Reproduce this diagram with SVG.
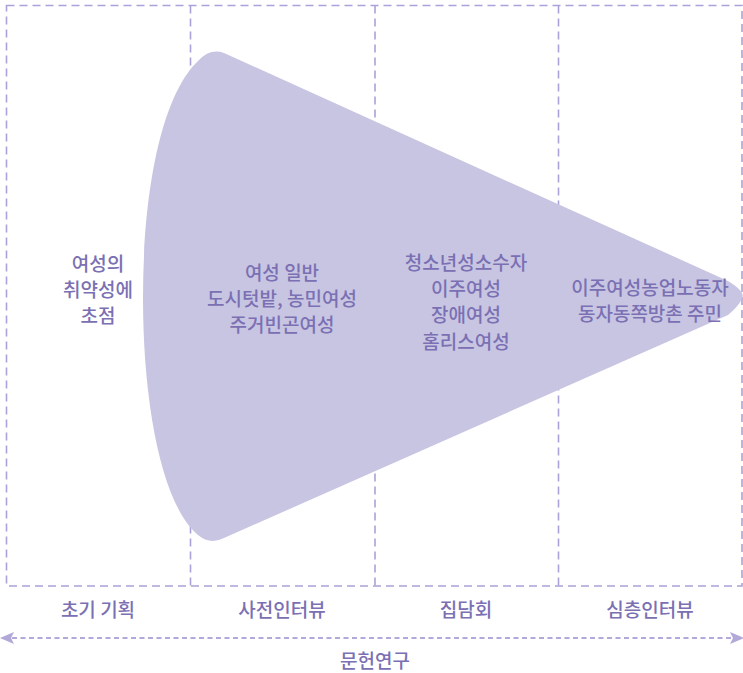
<svg xmlns="http://www.w3.org/2000/svg" width="743" height="673" viewBox="0 0 743 673">
<style>
.grid{fill:none;stroke:#aaa2d9;stroke-width:1.6;stroke-dasharray:8 5}
.t{font-family:"Noto Sans CJK KR","Noto Sans",sans-serif;font-size:19px;font-weight:500;fill:#7a70b3;text-anchor:middle}
.arr{stroke:#b2a8d9;stroke-width:2.2;stroke-dasharray:5 3.5;fill:none}
</style>
<defs>
<marker id="ah" viewBox="0 0 14 12" refX="2" refY="6" markerWidth="14" markerHeight="12" markerUnits="userSpaceOnUse" orient="auto-start-reverse">
<path d="M0,0 L14,6 L0,12 L3,6 Z" fill="#b2a8d9"/>
</marker>
</defs>
<rect width="743" height="673" fill="#fff"/>
<g id="grid">
<rect class="grid" x="6.5" y="5.5" width="735.5" height="580.5"/>
<line class="grid" x1="190.5" y1="5.5" x2="190.5" y2="586"/>
<line class="grid" x1="375" y1="5.5" x2="375" y2="586"/>
<line class="grid" x1="558.5" y1="5.5" x2="558.5" y2="586"/>
</g>
<g id="cone">
<path d="M224,53 L728,281 Q746,292 742,298 Q740,305 728,315 L224,538 Q210,545 198,535 C162,505 143,405 143,298 C143,190 162,95 198,61 Q210,48 224,53 Z" fill="#c8c5e2"/>
</g>
<g id="col1">
<text class="t" x="98" y="271">여성의</text>
<text class="t" x="98" y="297">취약성에</text>
<text class="t" x="98" y="323">초점</text>
</g>
<g id="col2">
<text class="t" x="282" y="280">여성 일반</text>
<text class="t" x="282" y="306">도시텃밭, 농민여성</text>
<text class="t" x="282" y="332">주거빈곤여성</text>
</g>
<g id="col3">
<text class="t" x="466" y="270">청소년성소수자</text>
<text class="t" x="466" y="296">이주여성</text>
<text class="t" x="466" y="322">장애여성</text>
<text class="t" x="466" y="349">홈리스여성</text>
</g>
<g id="col4">
<text class="t" x="650" y="295">이주여성농업노동자</text>
<text class="t" x="650" y="321">동자동쪽방촌 주민</text>
</g>
<g id="phases">
<text class="t" x="98" y="617">초기 기획</text>
<text class="t" x="282" y="617">사전인터뷰</text>
<text class="t" x="466" y="617">집담회</text>
<text class="t" x="650" y="617">심층인터뷰</text>
</g>
<g id="connectors">
<line class="arr" x1="12" y1="638" x2="732" y2="638" marker-start="url(#ah)" marker-end="url(#ah)"/>
</g>
<g id="lit">
<text class="t" x="375" y="668">문헌연구</text>
</g>
</svg>
